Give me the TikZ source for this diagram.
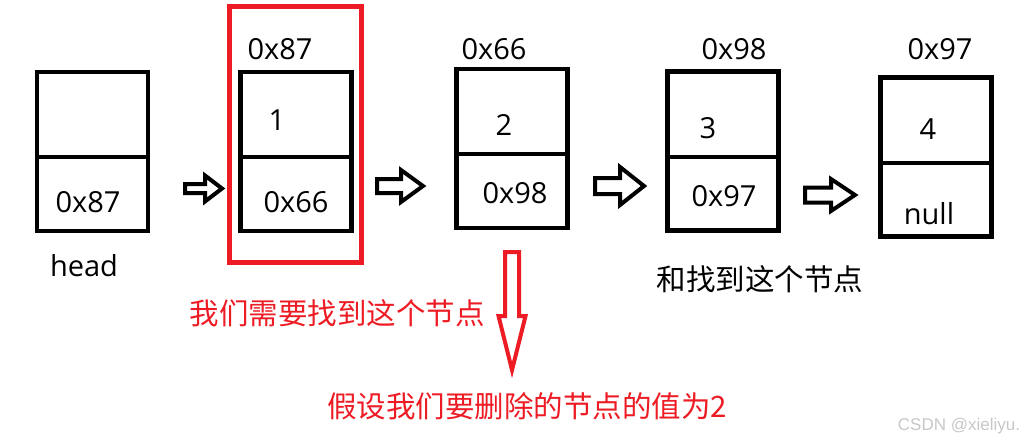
\documentclass[tikz,border=0pt]{standalone}
\usepackage{fontspec}
\setmainfont{Open Sans}
\newfontfamily\cjk{Noto Sans CJK SC}
\newfontfamily\wmfont{Liberation Sans}
\usetikzlibrary{calc}
\definecolor{paintred}{RGB}{237,28,36}
\tikzset{
 cell/.style={draw,line width=4.3pt,minimum width=111pt,minimum height=159pt,
              inner sep=0pt,outer sep=0pt},
 divider/.style={line width=4.3pt},
 txt/.style={font=\fontsize{29}{34}\selectfont,inner sep=0pt},
 hint/.style={font=\cjk\fontsize{29.5}{34}\selectfont,inner sep=0pt},
 blockarrow/.style={draw,fill=white,line width=4pt},
 redframe/.style={draw=paintred,line width=5pt,inner sep=0pt}
}

\begin{document}
\begin{tikzpicture}[x=1pt,y=-1pt]
\useasboundingbox (0,0) rectangle (1029,444);
% list cells
\node[cell] (b0) at (92.5,151.5) {};
\node[cell] (b1) at (296,151.5) {};
\node[cell] (b2) at (512,148.5) {};
\node[cell] (b3) at (723,151) {};
\node[cell] (b4) at (936,157) {};
\draw[divider] (b0.west |- 0,157) -- (b0.east |- 0,157);
\draw[divider] (b1.west |- 0,157) -- (b1.east |- 0,157);
\draw[divider] (b2.west |- 0,154) -- (b2.east |- 0,154);
\draw[divider] (b3.west |- 0,157) -- (b3.east |- 0,157);
\draw[divider] (b4.west |- 0,163) -- (b4.east |- 0,163);
% addresses
\node[txt] (addr1) at (280,49) {0x87};
\node[txt] (addr2) at (494,49) {0x66};
\node[txt] (addr3) at (734,49) {0x98};
\node[txt] (addr4) at (940,49) {0x97};
% values and next pointers
\node[txt] (val1) at (277,120) {1};
\node[txt] (val2) at (504,125) {2};
\node[txt] (val3) at (708,128) {3};
\node[txt] (val4) at (928,129) {4};
\node[txt] (next0) at (88,202) {0x87};
\node[txt] (next1) at (296,202) {0x66};
\node[txt] (next2) at (515,193) {0x98};
\node[txt] (next3) at (724,196) {0x97};
\node[txt] (next4) at (929,214) {null};
\node[txt] (head) at (84,266) {head};
% hollow arrows between cells, drawn from their tails
\coordinate (a01) at (185,188.5);
\coordinate (a12) at (377,186);
\coordinate (a23) at (595,186);
\coordinate (a34) at (805,195);
\draw[blockarrow] (a01) ++(0,-4.5) -- ++(20,0) -- ++(0,-8.5) -- ++(17,13)
  -- ++(-17,13) -- ++(0,-8.5) -- ++(-20,0) -- cycle;
\draw[blockarrow] (a12) ++(0,-7) -- ++(24,0) -- ++(0,-9) -- ++(22,16)
  -- ++(-22,16) -- ++(0,-9) -- ++(-24,0) -- cycle;
\draw[blockarrow] (a23) ++(0,-8) -- ++(25,0) -- ++(0,-11) -- ++(24,19)
  -- ++(-24,19) -- ++(0,-11) -- ++(-25,0) -- cycle;
\draw[blockarrow] (a34) ++(0,-7.5) -- ++(26,0) -- ++(0,-8.5) -- ++(24,16)
  -- ++(-24,16) -- ++(0,-8.5) -- ++(-26,0) -- cycle;
% highlight of the node before 2
\node[redframe,minimum width=132pt,minimum height=255pt] (pick) at (295,134.5) {};
\coordinate (down) at (512,252);
\draw[blockarrow,draw=paintred,fill=none] (down) ++(-7,0) -- ++(0,64) -- ++(-6.5,0)
  -- ++(13.5,54) -- ++(13.5,-54) -- ++(-6.5,0) -- ++(0,-64) -- cycle;
% notes
\node[hint,text=paintred] (need) at (337,313) {我们需要找到这个节点};
\node[hint,text=paintred] (del) at (527,406) {假设我们要删除的节点的值为2};
\node[hint] (also) at (760,279) {和找到这个节点};
\node[font=\wmfont\fontsize{17}{20}\selectfont,text=black!22,inner sep=0pt] (mark) at (959,426) {CSDN @xieliyu.};
\end{tikzpicture}
\end{document}
